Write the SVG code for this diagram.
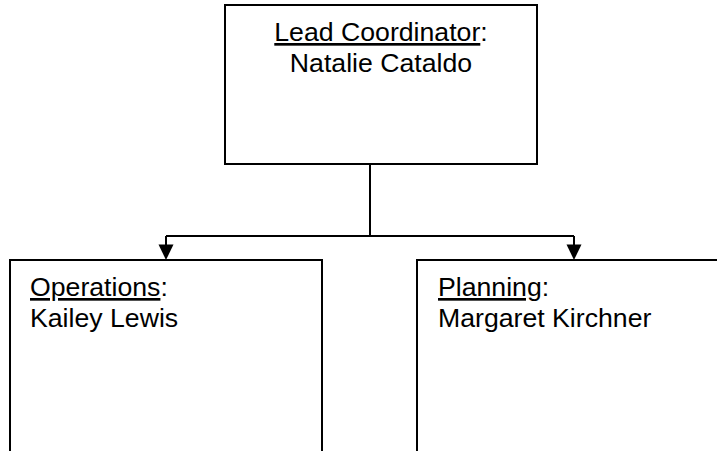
<svg xmlns="http://www.w3.org/2000/svg" width="717" height="451" viewBox="0 0 717 451">
<style>
.box{fill:#fff;stroke:#000;stroke-width:2}
.t{font-family:"Liberation Sans",Arial,sans-serif;font-size:26.67px;fill:#000}
.u{text-decoration:underline}
.c{fill:none;stroke:#000;stroke-width:2}
</style>
<rect width="717" height="451" fill="#fff"/>
<g id="connectors">
<path class="c" d="M370,164 V236"/>
<path class="c" d="M166,236 H574"/>
<path class="c" d="M166,236 V245"/>
<path class="c" d="M574,236 V245"/>
<path d="M158.5,244.5 L173.5,244.5 L166,260 z" fill="#000"/>
<path d="M566.5,244.5 L581.5,244.5 L574,260 z" fill="#000"/>
</g>
<g id="lead">
<rect class="box" x="225" y="5" width="312" height="159"/>
<text class="t" x="381" y="41" text-anchor="middle"><tspan class="u">Lead Coordinator</tspan>:</text>
<text class="t" x="381" y="72" text-anchor="middle">Natalie Cataldo</text>
</g>
<g id="operations">
<rect class="box" x="10" y="260" width="312" height="220"/>
<text class="t" x="30" y="296"><tspan class="u">Operations</tspan>:</text>
<text class="t" x="30" y="327">Kailey Lewis</text>
</g>
<g id="planning">
<rect class="box" x="417" y="260" width="330" height="220"/>
<text class="t" x="438" y="296"><tspan class="u">Planning</tspan>:</text>
<text class="t" x="438" y="327">Margaret Kirchner</text>
</g>
</svg>
